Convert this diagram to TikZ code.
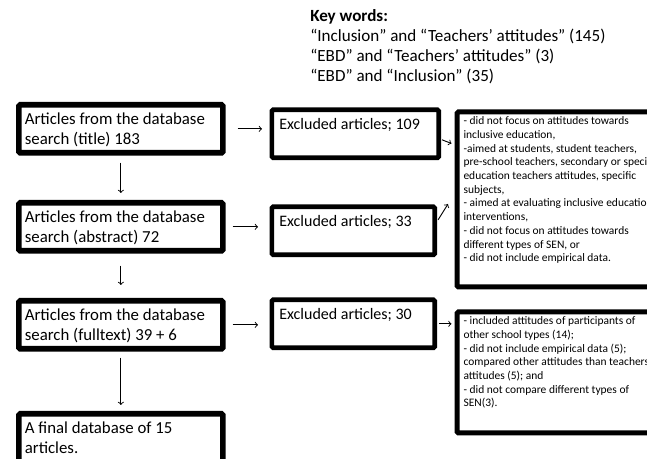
\documentclass[tikz,border=0pt]{standalone}
\usepackage{fontspec}
\setmainfont{Carlito}
\usetikzlibrary{calc}
\newcommand{\boxlines}[3]{\parbox[t][#2][t]{#1}{\begin{tabular}[t]{@{}l@{}}#3\end{tabular}}}
\tikzset{
	searchbox/.style={draw,line width=4.3pt,rounded corners=1pt,anchor=north west,inner xsep=4.5pt,inner ysep=4.5pt,font=\fontsize{12.6}{15}\selectfont},
	exclbox/.style={draw,line width=3.5pt,rounded corners=1pt,anchor=north west,inner xsep=5.6pt,inner ysep=4.5pt,font=\fontsize{12}{15}\selectfont},
	reasonbox/.style={draw,line width=3.75pt,rounded corners=1pt,anchor=north west,inner xsep=4.9pt,inner ysep=2.2pt,font=\fontsize{8.6}{10.3}\selectfont},
	flow/.style={->,line width=0.7pt}
}
\begin{document}
\begin{tikzpicture}[x=0.75pt,y=-0.75pt]
\clip (0,0) rectangle (647,459);
\node[anchor=base west,inner sep=0pt,font=\fontsize{12.8}{15}\selectfont] (kw) at (310,22) {\begin{tabular}[t]{@{}l@{}}\textbf{Key words:}\\``Inclusion'' and ``Teachers' attitudes'' (145)\\``EBD'' and ``Teachers' attitudes'' (3)\\``EBD'' and ``Inclusion'' (35)\end{tabular}};
% search steps
\node[searchbox] (A1) at (16,102) {\boxlines{144pt}{27pt}{Articles from the database\\search (title) 183}};
\node[searchbox] (A2) at (16,200) {\boxlines{144pt}{27pt}{Articles from the database\\search (abstract) 72}};
\node[searchbox] (A3) at (16,298) {\boxlines{144pt}{27pt}{Articles from the database\\search (fulltext) 39 + 6}};
\node[searchbox] (A4) at (16,411) {\boxlines{144pt}{33pt}{A final database of 15\\articles.}};
% excluded
\node[exclbox] (E1) at (269.5,107.5) {\boxlines{114pt}{27pt}{Excluded articles; 109}};
\node[exclbox] (E2) at (269.5,204.5) {\boxlines{111pt}{27pt}{Excluded articles; 33}};
\node[exclbox] (E3) at (269.5,297.5) {\boxlines{111pt}{27pt}{Excluded articles; 30}};
% reasons
\node[reasonbox] (R1) at (454.5,109.5) {\boxlines{155pt}{126.8pt}{- did not focus on attitudes towards\\inclusive education,\\-aimed at students, student teachers,\\pre-school teachers, secondary or special\\education teachers attitudes, specific\\subjects,\\- aimed at evaluating inclusive education\\interventions,\\- did not focus on attitudes towards\\different types of SEN, or\\- did not include empirical data.}};
\node[reasonbox] (R2) at (454.5,309.5) {\boxlines{155pt}{86.3pt}{- included attitudes of participants of\\other school types (14);\\- did not include empirical data (5);\\compared other attitudes than teachers'\\attitudes (5); and\\- did not compare different types of\\SEN(3).}};
\draw[flow,shorten <=5.25pt,shorten >=5.25pt] (A1.south) -- (A2.north);
\draw[flow,shorten <=9pt,shorten >=9.75pt] (A2.south) -- (A3.north);
\draw[flow,shorten <=4.5pt,shorten >=4.5pt] (A3.south) -- (A4.north);
\draw[flow,shorten <=9pt,shorten >=5.6pt] (A1.east) -- (A1.east -| E1.west);
\draw[flow,shorten <=5.25pt,shorten >=8.6pt] (A2.east) -- (A2.east -| E2.west);
\draw[flow,shorten <=5.25pt,shorten >=8.6pt] (A3.east) -- (A3.east -| E3.west);
\draw[flow] ($(E1.east)+(1,6)$) -- ($(R1.north west)+(-3,34)$);
\draw[flow] ($(E2.east)+(1,-11)$) -- ($(R1.north west)+(-6.5,94.5)$);
\draw[flow,shorten <=1.5pt,shorten >=2.25pt] (E3.east) -- (E3.east -| R2.west);
\end{tikzpicture}
\end{document}
